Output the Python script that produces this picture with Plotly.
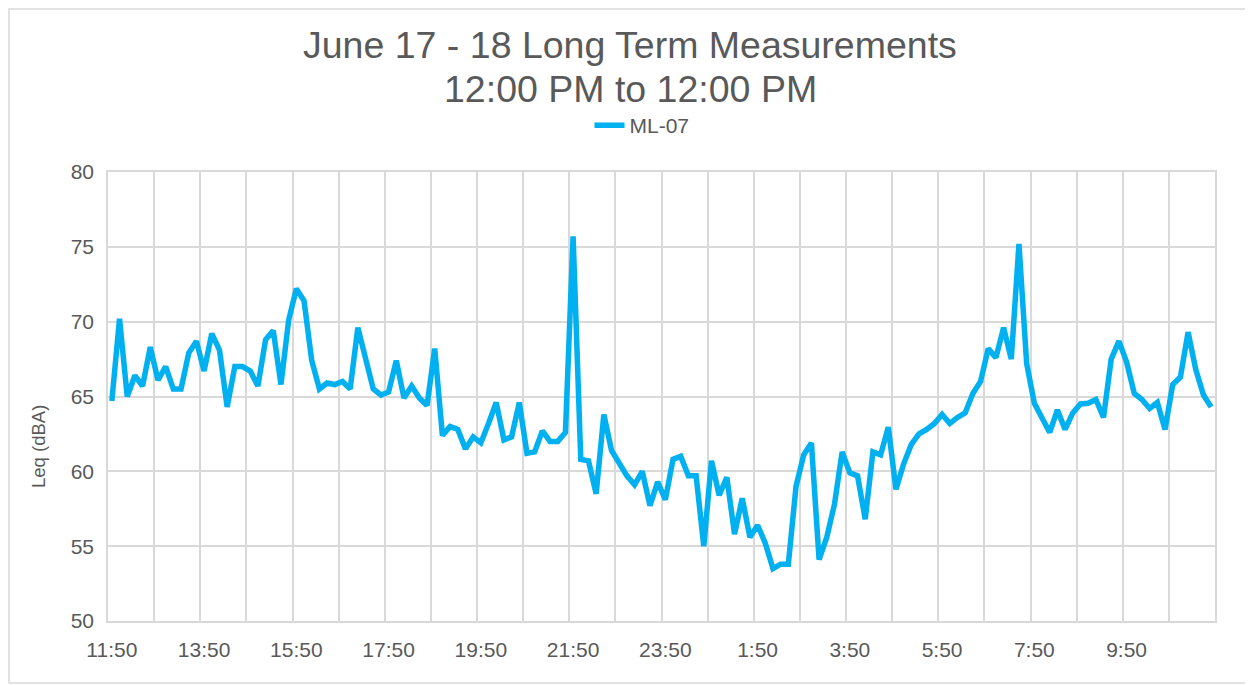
import plotly.graph_objects as go
import pandas as pd

# 10-minute interval categories, 11:50 on June 17 through 11:40 on June 18
times = pd.date_range("2019-06-17 11:50", periods=144, freq="10min")
categories = [f"{t.hour}:{t.minute:02d}" for t in times]

series_name = "ML-07"
leq = [
    64.7, 70.2, 65.0, 66.4, 65.7, 68.3, 66.1, 67.0, 65.5, 65.5, 67.9, 68.7,
    66.7, 69.2, 68.1, 64.3, 67.0, 67.0, 66.7, 65.7, 68.8, 69.4, 65.8, 70.1,
    72.2, 71.4, 67.4, 65.5, 65.9, 65.8, 66.0, 65.5, 69.6, 67.6, 65.5, 65.1,
    65.3, 67.4, 64.9, 65.7, 64.9, 64.4, 68.2, 62.4, 63.0, 62.8, 61.5, 62.3,
    61.9, 63.2, 64.6, 62.1, 62.3, 64.6, 61.2, 61.3, 62.7, 62.0, 62.0, 62.6,
    75.7, 60.8, 60.7, 58.5, 63.8, 61.4, 60.6, 59.7, 59.1, 60.0, 57.7, 59.3,
    58.1, 60.8, 61.0, 59.7, 59.7, 55.0, 60.7, 58.4, 59.6, 55.8, 58.2, 55.6,
    56.4, 55.2, 53.5, 53.8, 53.8, 59.0, 61.1, 61.9, 54.1, 55.6, 57.8, 61.3,
    59.9, 59.7, 56.8, 61.3, 61.1, 62.95, 58.8, 60.5, 61.8, 62.5, 62.8, 63.2,
    63.8, 63.2, 63.6, 63.9, 65.2, 66.0, 68.2, 67.6, 69.6, 67.5, 75.2, 67.2,
    64.55, 63.6, 62.6, 64.1, 62.8, 63.9, 64.5, 64.55, 64.8, 63.6, 67.5, 68.7,
    67.3, 65.2, 64.8, 64.2, 64.6, 62.8, 65.8, 66.3, 69.3, 66.8, 65.1, 64.3,
]

label_every = 12
grid_every = 6
y_ticks = [50, 55, 60, 65, 70, 75, 80]

title_lines = ["June 17 - 18 Long Term Measurements", "12:00 PM to 12:00 PM"]
y_title = "Leq (dBA)"

idx = list(range(len(leq)))
tickvals = idx[::label_every]
ticktext = [categories[i] for i in tickvals]

TXT = "#595959"
GRID = "#D9D9D9"
FONT = "Liberation Sans, Arial, sans-serif"

# page has an 8px body margin, so the figure is sized to fill the rest
W, H = 1245, 677
ML, MR, MT, MB = 100, 38, 164, 64
pw, ph = W - ML - MR, H - MT - MB

fig = go.Figure()
fig.add_trace(go.Scatter(
    x=idx, y=leq, mode="lines", name=series_name,
    line=dict(color="#00B0F0", width=5.5),
))

title_x = (622 - ML) / pw
title_centers = [37, 81]
for txt, cy in zip(title_lines, title_centers):
    fig.add_annotation(text=txt, xref="paper", yref="paper",
                       x=title_x, y=1 + (MT - cy) / ph, xanchor="center", yanchor="middle",
                       showarrow=False, font=dict(size=37.5, color=TXT, family=FONT))

# y-axis title, placed as in the source (slightly below the plot's mid-height)
fig.add_annotation(text=y_title, xref="paper", yref="paper",
                   x=(30 - ML) / pw, y=(MT + ph - 439) / ph,
                   xanchor="center", yanchor="middle", textangle=-90,
                   showarrow=False, font=dict(size=18.5, color=TXT, family=FONT))

fig.update_layout(
    width=W, height=H,
    margin=dict(l=ML, r=MR, t=MT, b=MB, autoexpand=False),
    paper_bgcolor="white", plot_bgcolor="white",
    font=dict(family=FONT, color=TXT, size=21),
    showlegend=True,
    legend=dict(orientation="h", x=(634 - ML) / pw, xanchor="center", xref="paper",
                y=1 + (MT - 97) / ph, yref="paper", yanchor="top",
                font=dict(size=21, color=TXT), itemwidth=30),
    xaxis=dict(
        range=[-0.5, len(leq) - 0.5],
        tickmode="array", tickvals=tickvals, ticktext=ticktext,
        showgrid=False, ticks="", zeroline=False,
        showline=True, linecolor=GRID, linewidth=1.5, mirror=True,
        tickfont=dict(size=21, color=TXT), ticklabelstandoff=9,
        minor=dict(tickmode="linear", tick0=-0.5, dtick=grid_every, showgrid=True,
                   gridcolor=GRID, gridwidth=1.5, ticks=""),
    ),
    yaxis=dict(
        range=[50, 80], tickmode="array", tickvals=y_ticks,
        showgrid=True, gridcolor=GRID, gridwidth=1.5, zeroline=False,
        showline=True, linecolor=GRID, linewidth=1.5, mirror=True,
        ticks="", tickfont=dict(size=21, color=TXT), ticklabelstandoff=8,
    ),
)

# chart-area border
fig.add_shape(type="rect", xref="paper", yref="paper",
              x0=(1 - ML) / pw, x1=(W - 2 - ML) / pw,
              y0=-(MB - 2) / ph, y1=1 + (MT - 1) / ph,
              line=dict(color=GRID, width=1.5), fillcolor="rgba(0,0,0,0)", layer="below")

fig.write_html("out.html")
